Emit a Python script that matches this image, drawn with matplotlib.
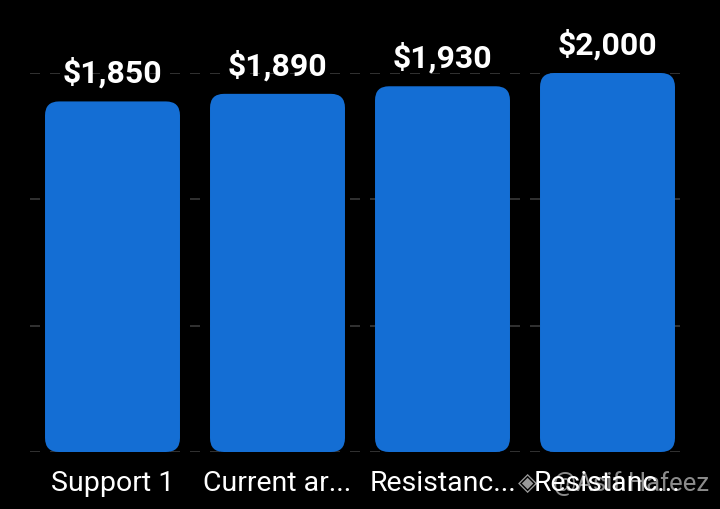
import matplotlib
matplotlib.use("Agg")
import matplotlib.pyplot as plt
from matplotlib.patches import FancyBboxPatch

# data
labels = ["Support 1", "Current ar...", "Resistanc...", "Resistanc..."]
values = [1850, 1890, 1930, 2000]
value_text = ["$1,850", "$1,890", "$1,930", "$2,000"]

plt.rcParams['font.family'] = ['Roboto', 'DejaVu Sans']

fig = plt.figure(figsize=(7.2, 5.09), dpi=100, facecolor="black")
ax = fig.add_axes([30 / 720, 57 / 509, 660 / 720, 379 / 509])
ax.set_facecolor("black")

bars = ax.bar(range(len(values)), values, width=0.818, color="none")
ax.set_xlim(-0.5, len(values) - 0.5)
ax.set_ylim(0, 2000)

# grid lines
for g in [0, 2000 / 3, 4000 / 3, 2000]:
    ax.axhline(g, color="#3a3a3a", lw=1.2, ls=(0, (6, 6)), zorder=0)

# rounded bars
px_x = 660 / len(values)
px_y = 379 / 2000
r = 14 / px_x
for b in bars:
    p = FancyBboxPatch((b.get_x() + r, r * px_x / px_y),
                       b.get_width() - 2 * r, b.get_height() - 2 * r * px_x / px_y,
                       boxstyle="round,pad=%f" % r,
                       mutation_aspect=px_x / px_y,
                       fc="#146ed4", ec="none", zorder=2)
    ax.add_patch(p)

for i, (v, t) in enumerate(zip(values, value_text)):
    ax.text(i, v + 150, t, ha="center", va="center", color="white",
            fontsize=23, fontweight="bold", zorder=3)

ax.set_xticks(range(len(values)))
ax.set_xticklabels(labels, color="white", fontsize=20.5)
ax.tick_params(axis="x", length=0, pad=13)
ax.set_yticks([])
for s in ax.spines.values():
    s.set_visible(False)

# watermark
fig.text(528 / 720, 26 / 509, "◈", color="white", alpha=0.6, fontsize=18,
         ha="center", va="center", family=['DejaVu Sans'])
fig.text(553 / 720, 25 / 509, "@Asif Hafeez", color="white", alpha=0.55,
         fontsize=18.5, ha="left", va="center")

fig.savefig("out.png", dpi=100, facecolor="black")
